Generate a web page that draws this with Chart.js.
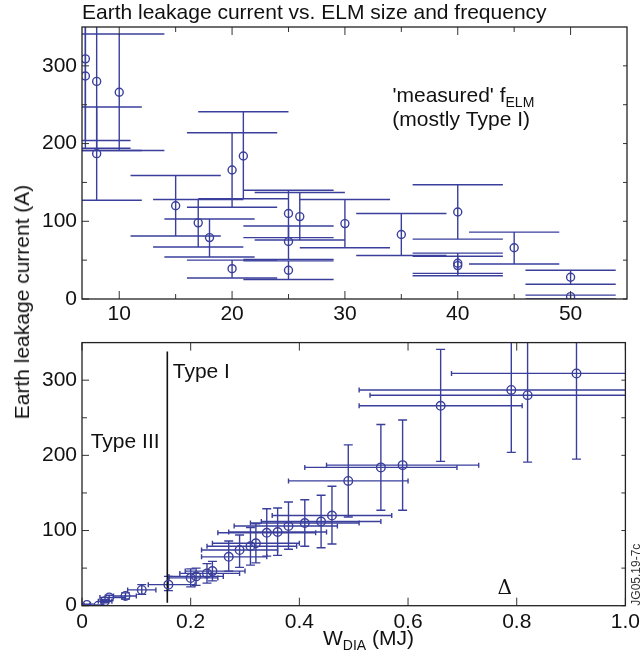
<!DOCTYPE html>
<html lang="en">
<head>
<meta charset="UTF-8">
<title>Earth leakage current vs. ELM size and frequency</title>
<script src="https://cdn.jsdelivr.net/npm/chart.js"></script>
<style>
  body { margin: 0; background: #fff; }
  #wrap { position: relative; width: 644px; height: 666px; overflow: hidden;
          font-family: 'Liberation Sans', Arial, sans-serif; color: #111; }
  #topChart { position: absolute; left: 0; top: 0; }
  #botChart { position: absolute; left: 0; top: 325px; }
  #ylab { position: absolute; left: 22px; top: 302px; white-space: nowrap; font-size: 21px;
          transform: translate(-50%, -50%) rotate(-90deg); }
</style>
</head>
<body>
<div id="wrap">
  <canvas id="topChart" width="644" height="330"></canvas>
  <canvas id="botChart" width="644" height="341"></canvas>
  <div id="ylab">Earth leakage current (A)</div>
</div>
<script>
// top panel: ELM frequency (Hz) vs current (A)
const freqX   = [7, 7, 8, 8, 10, 15, 17, 18, 20, 20, 21, 25, 25, 25, 26, 30, 35, 40, 40, 40, 45, 50, 50];
const freqY   = [309, 287, 280, 187, 266, 120, 98, 79, 166, 39, 184, 110, 74, 37, 106, 97, 83, 112, 46, 43, 66, 28, 3];
const freqYLo = [204, 194, 191, 127, 191, 81, 67, 54, 118, 27, 129, 79, 51, 25, 76, 66, 56, 77, 30, 33, 45, 19, 0];
const freqYHi = [414, 380, 370, 247, 341, 159, 128, 103, 214, 50, 241, 140, 94, 49, 137, 128, 110, 147, 59, 55, 86, 37, 5];
const freqXLo = [3, 3, 4, 4, 6, 11, 13, 14, 16, 16, 17, 21, 21, 21, 22, 26, 31, 36, 36, 36, 41, 46, 46];
const freqXHi = [11, 11, 12, 12, 14, 19, 21, 22, 24, 24, 25, 29, 29, 29, 30, 34, 39, 44, 44, 44, 49, 54, 54];

// bottom panel: W_DIA (MJ) vs current (A)
const wX   = [0.91, 0.79, 0.82, 0.66, 0.59, 0.55, 0.49, 0.46, 0.44, 0.41, 0.38, 0.36, 0.34, 0.32, 0.31, 0.29, 0.27, 0.24, 0.23, 0.21, 0.20, 0.159, 0.11, 0.08, 0.05, 0.042, 0.03, 0.009];
const wY   = [309, 287, 280, 266, 187, 184, 166, 120, 112, 110, 106, 98, 97, 83, 79, 74, 65, 46, 43, 39, 37, 28, 21, 13, 11, 6, 0, 1];
const wXLo = [0.68, 0.51, 0.53, 0.51, 0.45, 0.41, 0.38, 0.35, 0.33, 0.31, 0.28, 0.27, 0.25, 0.24, 0.23, 0.22, 0.22, 0.19, 0.18, 0.16, 0.16, 0.122, 0.084, 0.058, 0.033, 0.03, 0.02, 0.004];
const wXHi = [1.14, 1.07, 1.11, 0.81, 0.73, 0.69, 0.60, 0.57, 0.55, 0.51, 0.47, 0.45, 0.43, 0.40, 0.395, 0.36, 0.34, 0.30, 0.29, 0.26, 0.25, 0.208, 0.136, 0.10, 0.079, 0.055, 0.04, 0.014];
const wYLo = [195, 204, 191, 192, 127, 127, 118, 82, 77, 79, 75, 67, 66, 57, 54, 51, 46, 33, 30, 27, 25, 20, 15, 9, 7, 4, 0, 0];
const wYHi = [423, 370, 369, 341, 247, 241, 214, 159, 147, 141, 138, 130, 129, 109, 104, 94, 86, 59, 56, 50, 49, 39, 28, 17, 14, 8, 1, 2];

// Type III / Type I boundary
const boundaryX = [0.157, 0.157];
const boundaryY = [4, 338];

const topXTicks = [10, 15, 20, 25, 30, 35, 40, 45, 50];
const botXTicks = [0, 0.2, 0.4, 0.6, 0.8, 1.0];
const yTicks = [0, 50, 100, 150, 200, 250, 300];

const blue = '#3a3f9c';
const fam = "'Liberation Sans', Arial, sans-serif";

function clipArea(ctx, a) {
  ctx.beginPath();
  ctx.rect(a.left, a.top, a.right - a.left, a.bottom - a.top);
  ctx.clip();
}

const topBars = {
  id: 'topBars',
  beforeDatasetsDraw(chart) {
    const { ctx, chartArea, scales: { x, y } } = chart;
    ctx.save();
    clipArea(ctx, chartArea);
    ctx.strokeStyle = blue;
    ctx.lineWidth = 1.4;
    freqX.forEach((fx, i) => {
      const px = x.getPixelForValue(fx);
      const lo = y.getPixelForValue(freqYLo[i]), hi = y.getPixelForValue(freqYHi[i]);
      const l = x.getPixelForValue(freqXLo[i]), r = x.getPixelForValue(freqXHi[i]);
      ctx.beginPath();
      ctx.moveTo(px, lo); ctx.lineTo(px, hi);
      ctx.moveTo(l, lo); ctx.lineTo(r, lo);
      ctx.moveTo(l, hi); ctx.lineTo(r, hi);
      ctx.stroke();
    });
    ctx.restore();
  }
};

const botBars = {
  id: 'botBars',
  beforeDatasetsDraw(chart) {
    const { ctx, chartArea, scales: { x, y } } = chart;
    ctx.save();
    clipArea(ctx, chartArea);
    ctx.strokeStyle = blue;
    ctx.lineWidth = 1.4;
    wX.forEach((wx, i) => {
      const px = x.getPixelForValue(wx), py = y.getPixelForValue(wY[i]);
      const lo = y.getPixelForValue(wYLo[i]), hi = y.getPixelForValue(wYHi[i]);
      const l = x.getPixelForValue(wXLo[i]), r = x.getPixelForValue(wXHi[i]);
      ctx.beginPath();
      ctx.moveTo(px, lo); ctx.lineTo(px, hi);
      ctx.moveTo(px - 4.5, lo); ctx.lineTo(px + 4.5, lo);
      ctx.moveTo(px - 4.5, hi); ctx.lineTo(px + 4.5, hi);
      ctx.moveTo(l, py); ctx.lineTo(r, py);
      ctx.moveTo(l, py - 2.5); ctx.lineTo(l, py + 2.5);
      ctx.moveTo(r, py - 2.5); ctx.lineTo(r, py + 2.5);
      ctx.stroke();
    });
    ctx.restore();
  }
};

// box round the plot and inward ticks on all four sides
const frame = {
  id: 'frame',
  afterDraw(chart) {
    const { ctx, chartArea: a, scales: { x, y } } = chart;
    ctx.save();
    ctx.strokeStyle = '#333';
    ctx.lineWidth = 1;
    x.ticks.forEach(t => {
      const px = x.getPixelForValue(t.value);
      const len = t.label !== '' ? 8 : 5;
      ctx.beginPath();
      ctx.moveTo(px, a.bottom); ctx.lineTo(px, a.bottom - len);
      ctx.moveTo(px, a.top); ctx.lineTo(px, a.top + len);
      ctx.stroke();
    });
    y.ticks.forEach(t => {
      const py = y.getPixelForValue(t.value);
      const len = t.label !== '' ? 7 : 5;
      ctx.beginPath();
      ctx.moveTo(a.left, py); ctx.lineTo(a.left + len, py);
      ctx.moveTo(a.right, py); ctx.lineTo(a.right - 4, py);
      ctx.stroke();
    });
    ctx.strokeStyle = '#222';
    ctx.lineWidth = 1.3;
    ctx.strokeRect(a.left, a.top, a.right - a.left, a.bottom - a.top);
    ctx.restore();
  }
};

function subText(ctx, main, sub, cx, baseline, size) {
  ctx.font = size + 'px ' + fam;
  const w1 = ctx.measureText(main).width;
  ctx.font = Math.round(size * 0.67) + 'px ' + fam;
  const w2 = ctx.measureText(sub).width;
  const left = cx - (w1 + w2) / 2;
  ctx.textAlign = 'left';
  ctx.font = size + 'px ' + fam;
  ctx.fillText(main, left, baseline);
  ctx.font = Math.round(size * 0.67) + 'px ' + fam;
  ctx.fillText(sub, left + w1, baseline + 5);
}

const topText = {
  id: 'topText',
  afterDraw(chart) {
    const { ctx, chartArea: a, scales: { x, y } } = chart;
    ctx.save();
    ctx.fillStyle = '#111';
    ctx.textBaseline = 'alphabetic';
    ctx.font = '21px ' + fam;
    ctx.textAlign = 'left';
    ctx.fillText('Earth leakage current vs. ELM size and frequency', a.left, 19);
    subText(ctx, "'measured' f", 'ELM', x.getPixelForValue(40.5), y.getPixelForValue(254), 21);
    ctx.font = '21px ' + fam;
    ctx.textAlign = 'center';
    ctx.fillText('(mostly Type I)', x.getPixelForValue(40.3), y.getPixelForValue(222));
    ctx.restore();
  }
};

const botText = {
  id: 'botText',
  afterDraw(chart) {
    const { ctx, chartArea: a, scales: { x, y } } = chart;
    ctx.save();
    ctx.fillStyle = '#111';
    ctx.textBaseline = 'alphabetic';
    ctx.font = '21px ' + fam;
    ctx.textAlign = 'left';
    ctx.fillText('Type I', x.getPixelForValue(0.167), y.getPixelForValue(303));
    ctx.fillText('Type III', x.getPixelForValue(0.016), y.getPixelForValue(210));
    ctx.font = "20px 'DejaVu Serif', serif";
    ctx.textAlign = 'center';
    ctx.fillText('\u0394', x.getPixelForValue(0.778), y.getPixelForValue(15));
    // x axis title
    ctx.textAlign = 'left';
    ctx.font = '21px ' + fam;
    const lx = a.left + 241, ly = 320;
    ctx.fillText('W', lx, ly);
    const ww = ctx.measureText('W').width;
    ctx.font = '14px ' + fam;
    ctx.fillText('DIA', lx + ww, ly + 5);
    const wd = ctx.measureText('DIA').width;
    ctx.font = '21px ' + fam;
    ctx.fillText(' (MJ)', lx + ww + wd, ly);
    // figure id
    ctx.font = '12px ' + fam;
    ctx.translate(a.right + 15, a.bottom);
    ctx.rotate(-Math.PI / 2);
    ctx.fillStyle = '#333';
    ctx.fillText('JG05.19-7c', 0, 0);
    ctx.restore();
  }
};

const tickFont = { size: 21, family: fam };

const yScale = (padTop) => ({
  type: 'linear', min: 0, max: 350,
  grid: { display: false, drawTicks: false }, border: { display: false },
  afterBuildTicks: s => { s.ticks = yTicks.map(v => ({ value: v })); },
  afterFit: s => { s.width = 82; },
  ticks: { callback: v => (v % 100 === 0 ? v : ''), font: tickFont, color: '#111', padding: 5, autoSkip: false }
});

new Chart(document.getElementById('topChart'), {
  type: 'scatter',
  data: {
    datasets: [{
      data: freqX.map((v, i) => ({ x: v, y: freqY[i] })),
      pointStyle: 'circle', pointRadius: 4, borderColor: blue,
      backgroundColor: 'rgba(0,0,0,0)', borderWidth: 1.4
    }]
  },
  options: {
    responsive: false, animation: false,
    layout: { padding: { top: 27, right: 17, left: 0, bottom: 0 } },
    plugins: { legend: { display: false }, tooltip: { enabled: false } },
    scales: {
      x: {
        type: 'linear', min: 6.7, max: 55,
        grid: { display: false, drawTicks: false }, border: { display: false },
        afterBuildTicks: s => { s.ticks = topXTicks.map(v => ({ value: v })); },
        afterFit: s => { s.height = 31; },
        ticks: { callback: v => (v % 10 === 0 ? v : ''), font: tickFont, color: '#111', padding: 3, maxRotation: 0, autoSkip: false }
      },
      y: yScale()
    }
  },
  plugins: [topBars, frame, topText]
});

new Chart(document.getElementById('botChart'), {
  type: 'scatter',
  data: {
    datasets: [{
      data: wX.map((v, i) => ({ x: v, y: wY[i] })),
      pointStyle: 'circle', pointRadius: 4.3, borderColor: blue,
      backgroundColor: 'rgba(0,0,0,0)', borderWidth: 1.4
    }, {
      data: boundaryX.map((v, i) => ({ x: v, y: boundaryY[i] })),
      showLine: true, pointRadius: 0, borderColor: '#111', borderWidth: 1.6
    }]
  },
  options: {
    responsive: false, animation: false,
    layout: { padding: { top: 8, right: 18, left: 0, bottom: 0 } },
    plugins: { legend: { display: false }, tooltip: { enabled: false } },
    scales: {
      x: {
        type: 'linear', min: 0, max: 1,
        grid: { display: false, drawTicks: false }, border: { display: false },
        afterBuildTicks: s => { s.ticks = botXTicks.map(v => ({ value: v })); },
        afterFit: s => { s.height = 60.3; },
        ticks: { callback: v => (v === 0 ? '0' : v.toFixed(1)), font: tickFont, color: '#111', padding: 4, maxRotation: 0, autoSkip: false }
      },
      y: yScale()
    }
  },
  plugins: [botBars, frame, botText]
});
</script>
</body>
</html>
